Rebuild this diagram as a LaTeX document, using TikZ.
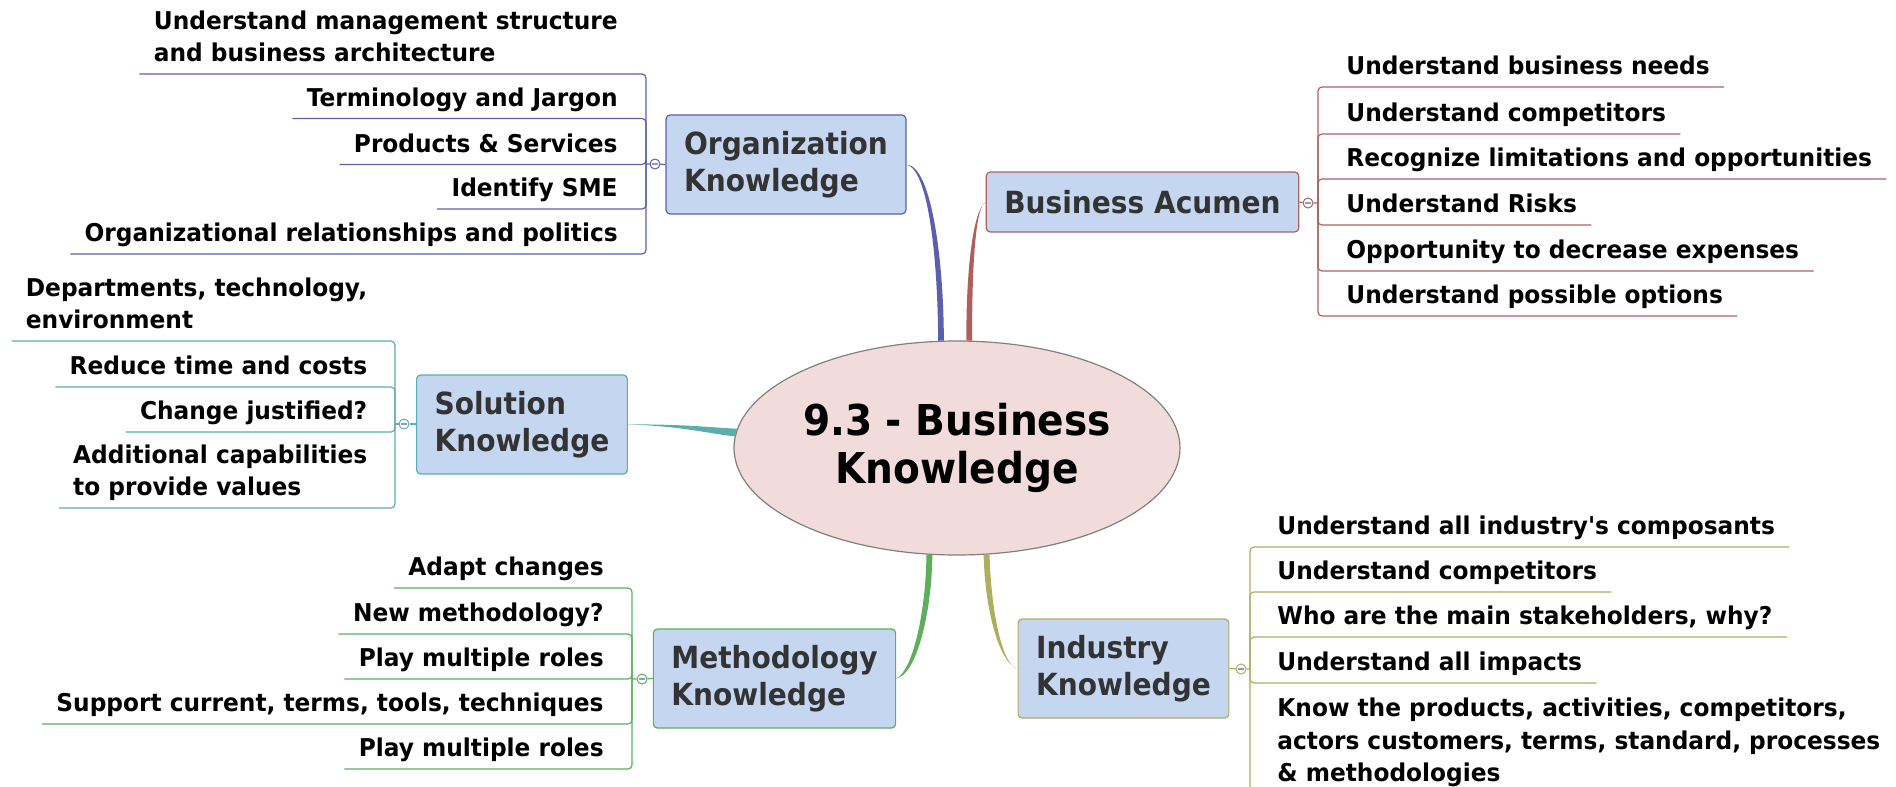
\documentclass[tikz,border=0pt]{standalone}
\usepackage{fontspec}
\setmainfont{DejaVu Sans}[FakeStretch=0.92]
\newfontfamily\leaffont{DejaVu Sans}[FakeStretch=0.95]
\usetikzlibrary{shapes.geometric}

\definecolor{orgc}{HTML}{5C5EAE}
\definecolor{bizc}{HTML}{B05F5F}
\definecolor{solc}{HTML}{5AAEAE}
\definecolor{methc}{HTML}{5EAE5E}
\definecolor{indc}{HTML}{AFAE5F}
\definecolor{boxfill}{HTML}{C4D6F0}
\definecolor{boxtext}{HTML}{333333}
\definecolor{hubfill}{HTML}{F2DCDB}
\definecolor{hubline}{HTML}{808080}
\definecolor{foldmark}{HTML}{8A9CC8}

\begin{document}
\begin{tikzpicture}[x=0.5pt,y=0.5pt,yscale=-1,
  box/.style={draw, rounded corners=2pt, fill=boxfill, text=boxtext, line width=0.6pt,
    font=\fontsize{15.25}{18.5}\selectfont\bfseries, align=left, inner xsep=9pt, minimum height=49.5pt},
  leaf/.style={font=\leaffont\fontsize{12.25}{16.3}\selectfont\bfseries, align=left,
    inner xsep=7pt, inner ysep=6pt, text depth=0pt},
  fold/.style={circle, draw, fill=white, line width=0.5pt, minimum size=5pt, inner sep=0pt,
    path picture={\draw[foldmark, line width=0.6pt]
      ([xshift=-1.3pt]path picture bounding box.center) -- ([xshift=1.3pt]path picture bounding box.center);}},
  twig/.style={line width=0.6pt, rounded corners=2pt}]
\useasboundingbox (0,0) rectangle (1896,787);

% Central topic
\node[ellipse, draw=hubline, fill=hubfill, line width=0.6pt, minimum width=223pt, minimum height=107pt,
  inner sep=0pt, font=\fontsize{21.25}{24}\selectfont\bfseries, align=center] (hub) at (957,448) {9.3 - Business\\Knowledge};

% Main topics
\node[box, draw=orgc] (org) at (786,164.5) {Organization\\Knowledge};
\node[box, draw=bizc, minimum height=30pt] (biz) at (1142.5,202) {Business Acumen};
\node[box, draw=solc] (sol) at (522,424.5) {Solution\\Knowledge};
\node[box, draw=methc] (meth) at (774.5,678.5) {Methodology\\Knowledge};
\node[box, draw=indc] (ind) at (1123.5,668.5) {Industry\\Knowledge};

% Branches to the central topic
\fill[orgc] (org.east) .. controls (930,170) and (938,270) .. (hub.100) -- (hub.97) .. controls (944,270) and (933,166) .. (org.east) -- cycle;
\fill[bizc] (biz.west) .. controls (973,210) and (966,270) .. (hub.85) -- (hub.82) .. controls (972,270) and (975,206) .. (biz.west) -- cycle;
\fill[solc] (sol.east) .. controls (680,424) and (705,427) .. (hub.175) -- (hub.177) .. controls (705,433) and (680,426) .. (sol.east) -- cycle;
\fill[methc] (meth.east) .. controls (913,671) and (926,610) .. (hub.254) -- (hub.257) .. controls (932,610) and (917,675) .. (meth.east) -- cycle;
\fill[indc] (ind.west) .. controls (999,663) and (985,610) .. (hub.284) -- (hub.287) .. controls (991,610) and (1002,666) .. (ind.west) -- cycle;

% Organization Knowledge
\coordinate (ob) at (646,164);
\node[fold, draw=orgc] (oc) at (655,164) {};
\node[leaf, anchor=south east] (o1) at (632,74) {Understand management structure\\and business architecture};
\node[leaf, anchor=south east] (o2) at (632,118.5) {Terminology and Jargon};
\node[leaf, anchor=south east] (o3) at (632,164.5) {Products \& Services};
\node[leaf, anchor=south east] (o4) at (632,209) {Identify SME};
\node[leaf, anchor=south east] (o5) at (632,254) {Organizational relationships and politics};
\draw[twig, orgc] (org.west) -- (oc) -- (ob);
\foreach \c in {o1,o2,o3,o4,o5}
  \draw[twig, orgc] (ob) |- (\c.south east) -- (\c.south west);

% Business Acumen
\coordinate (bb) at (1318,203);
\node[fold, draw=bizc] (bc) at (1308,203) {};
\node[leaf, anchor=south west] (b1) at (1332,87) {Understand business needs};
\node[leaf, anchor=south west] (b2) at (1332,134) {Understand competitors};
\node[leaf, anchor=south west] (b3) at (1332,179) {Recognize limitations and opportunities};
\node[leaf, anchor=south west] (b4) at (1332,225) {Understand Risks};
\node[leaf, anchor=south west] (b5) at (1332,271) {Opportunity to decrease expenses};
\node[leaf, anchor=south west] (b6) at (1332,316) {Understand possible options};
\draw[twig, bizc] (biz.east) -- (bc) -- (bb);
\foreach \c in {b1,b2,b3,b4,b5,b6}
  \draw[twig, bizc] (bb) |- (\c.south west) -- (\c.south east);

% Solution Knowledge
\coordinate (sb) at (395,424);
\node[fold, draw=solc] (sc) at (404,424) {};
\node[leaf, anchor=south east] (s1) at (381.6,341) {Departments, technology,\\environment};
\node[leaf, anchor=south east] (s2) at (381.6,387) {Reduce time and costs};
\node[leaf, anchor=south east] (s3) at (381.6,432) {Change justified?};
\node[leaf, anchor=south east] (s4) at (381.6,508) {Additional capabilities\\to provide values};
\draw[twig, solc] (sol.west |- sc) -- (sc) -- (sb);
\foreach \c in {s1,s2,s3,s4}
  \draw[twig, solc] (sb) |- (\c.south east) -- (\c.south west);

% Methodology Knowledge
\coordinate (mb) at (632,679);
\node[fold, draw=methc] (mc) at (642,679) {};
\node[leaf, anchor=south east] (m1) at (618,588) {Adapt changes};
\node[leaf, anchor=south east] (m2) at (618,634) {New methodology?};
\node[leaf, anchor=south east] (m3) at (618,679) {Play multiple roles};
\node[leaf, anchor=south east] (m4) at (618,724) {Support current, terms, tools, techniques};
\node[leaf, anchor=south east] (m5) at (618,769) {Play multiple roles};
\draw[twig, methc] (meth.west) -- (mc) -- (mb);
\foreach \c in {m1,m2,m3,m4,m5}
  \draw[twig, methc] (mb) |- (\c.south east) -- (\c.south west);

% Industry Knowledge
\coordinate (ib) at (1250,669);
\node[fold, draw=indc] (ic) at (1241,669) {};
\node[leaf, anchor=south west] (i1) at (1263,547) {Understand all industry's composants};
\node[leaf, anchor=south west] (i2) at (1263,592) {Understand competitors};
\node[leaf, anchor=south west] (i3) at (1263,637) {Who are the main stakeholders, why?};
\node[leaf, anchor=south west] (i4) at (1263,683) {Understand all impacts};
\node[leaf, anchor=south west] (i5) at (1263,794) {Know the products, activities, competitors,\\actors customers, terms, standard, processes\\\& methodologies};
\draw[twig, indc] (ind.east) -- (ic) -- (ib);
\foreach \c in {i1,i2,i3,i4,i5}
  \draw[twig, indc] (ib) |- (\c.south west) -- (\c.south east);
\end{tikzpicture}
\end{document}
